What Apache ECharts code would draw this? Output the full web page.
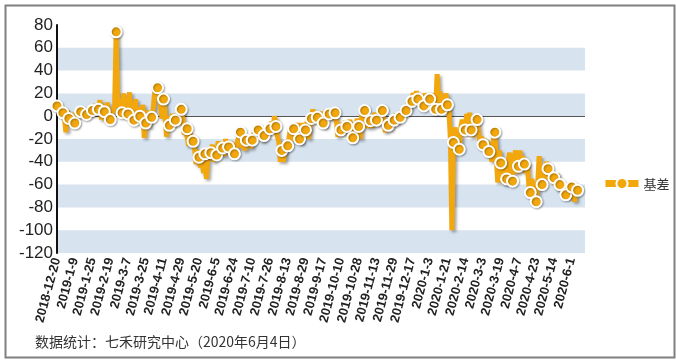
<!DOCTYPE html>
<html>
<head>
<meta charset="utf-8">
<script src="https://cdn.jsdelivr.net/npm/echarts@6/dist/echarts.min.js"></script>
<style>
html,body{margin:0;padding:0;background:#fff;}
#chart{width:676px;height:361px;}
</style>
</head>
<body>
<div id="chart"></div>
<script>
// Tick labels along the x axis (every 12th trading day)
var tickLabels = ['2018-12-20','2019-1-9','2019-1-25','2019-2-19','2019-3-7','2019-3-25','2019-4-11','2019-4-29','2019-5-20','2019-6-5','2019-6-24','2019-7-10','2019-7-26','2019-8-13','2019-8-29','2019-9-17','2019-10-10','2019-10-28','2019-11-13','2019-11-29','2019-12-17','2020-1-3','2020-1-21','2020-2-14','2020-3-3','2020-3-19','2020-4-7','2020-4-23','2020-5-14','2020-6-1'];
var tickStep = 12;
var categoryCount = 358;
var markerStep = 4;
var seriesName = '基差';
// basis values (one per trading day)
var basis = [
 9, 6, 2, 5, 3, 0, -14, 5, -2, -4, 3, -8, -6, 2, 0, 4,
 4, 2, 0, 3, 1.5, 4, 7, 2, 5, 8, 10, 3, 6, 14, -3, 10,
 4, -4, 12, 2, -3, 2, 5, 10, 74, 8, 15, 5, 3, 20, 5, 10,
 2, 21, -4, 12, -3.5, 15, -5, 8, 0, -6, 10, -19, -6, 5, -10, 3,
 -1, 6, 20, 26, 25, 18, 8, -2, 15, 5, -18, 0, -8, -4, 2, -8,
 -3.5, 0, -6, 3, 6, -2, -16, -10, -11, -26, -15, -20, -22, -28, -42, -30,
 -36, -45, -30, -50, -33, -55, -35, -28, -32, -25, -40, -30, -34, -22, -30, -24,
 -28, -35, -20, -30, -27, -22, -30, -24, -33, -28, -22, -18, -14, -28, -20, -30,
 -21, -26, -18, -28, -21, -16, -10, -15, -12, -20, -14, -22, -17, -10, -18, -8,
 -11, -5, -12, 0, -9, -18, -22, -40, -30, -40, -32, -22, -26, -18, -10, -22,
 -11, -8, -15, -6, -20, -24, -6, -14, -12, -5, -20, -8, -2, 6, -2, 4,
 -1, -4, 4, -3, -6, -10, 6, -2, 2, 5, -3, 6, 3, -5, -18, -8,
 -12, -6, -16, -4, -9, -12, -3, -22, -19, -6, -14, -2, -9, -20, 0, 2,
 5, -6, -10, 0, -4, -10, -2, 3, -3.5, -8, -2, 0, 5, -3, -14, -4,
 -8, -12, -2, -8, -3.5, 2, -6, -1, -1, 4, 0, 6, 5, 10, 6, 14,
 13, 20, 12, 22, 15, 10, 18, 12, 9, 20, 14, 18, 15, 20, 10, 12,
 6, 37, 12, 22, 6, 18, 8, 20, 10, 5, -20, -100, -23, -10, -15, -12,
 -29, -10, -3, -14, -12, 2, -8, 3, -12, -18, 0, -8, -3, -14, -24, -18,
 -25, -20, -30, -22, -31, -24, -40, -22, -14, -35, -58, -30, -41, -58, -40, -60,
 -55, -40, -32, -58, -57, -38, -30, -50, -44, -30, -48, -35, -42, -50, -40, -60,
 -67, -55, -65, -72, -75, -60, -35, -50, -60, -45, -55, -40, -46, -55, -50, -58,
 -54, -60, -50, -65, -60, -58, -68, -62, -69, -60, -72, -58, -62, -64, -75, -60,
 -65
];
var yMin = -120, yMax = 80, yStep = 20;
var footnote = '数据统计：七禾研究中心（2020年6月4日）';

var categories = [];
for (var i = 0; i < categoryCount; i++) {
  categories.push(i % tickStep === 0 && tickLabels[i / tickStep] ? tickLabels[i / tickStep] : ('d' + i));
}
var seriesData = basis.map(function (v, i) {
  return i % markerStep === 0 ? v : { value: v, symbol: 'none' };
});
var splitColors = [];
for (var t = yMin; t <= yMax; t += yStep) splitColors.push(t === 0 ? '#555555' : 'rgba(0,0,0,0)');

var orange = '#F2A70D';
var chart = echarts.init(document.getElementById('chart'), null, { renderer: 'canvas' });
chart.setOption({
  animation: false,
  backgroundColor: '#ffffff',
  textStyle: { fontFamily: 'Liberation Sans, Arial, sans-serif' },
  grid: { left: 57, right: 91, top: 25, bottom: 108, containLabel: false },
  legend: {
    show: true,
    left: 597, top: 172,
    itemWidth: 33, itemHeight: 14,
    itemGap: 5,
    lineStyle: { width: 7 },
    textStyle: { fontSize: 13, color: '#333', fontFamily: 'Noto Sans CJK SC, sans-serif', padding: [0, 0, 0, 0] },
    data: [seriesName]
  },
  xAxis: {
    type: 'category',
    data: categories,
    boundaryGap: false,
    axisLine: { show: false },
    axisTick: { show: false },
    splitLine: { show: false },
    axisLabel: {
      interval: tickStep - 1,
      rotate: 75,
      margin: 5,
      fontSize: 13,
      fontWeight: 'bold',
      color: '#222'
    }
  },
  yAxis: {
    type: 'value',
    min: yMin, max: yMax, interval: yStep,
    axisLine: { show: true, lineStyle: { color: '#111', width: 2 } },
    axisTick: { show: false },
    axisLabel: { fontSize: 17, color: '#222', margin: 4 },
    splitLine: { show: true, lineStyle: { color: splitColors, width: 1 } },
    splitArea: { show: true, areaStyle: { color: ['#D7E3EF', 'rgba(255,255,255,0)'] } }
  },
  series: [{
    name: seriesName,
    type: 'line',
    data: seriesData,
    symbol: 'circle',
    symbolSize: 11,
    showAllSymbol: true,
    lineStyle: {
      color: orange, width: 5,
      shadowColor: 'rgba(0,0,0,0.35)', shadowBlur: 3, shadowOffsetX: 2, shadowOffsetY: 2
    },
    itemStyle: {
      color: orange, borderColor: '#ffffff', borderWidth: 2,
      shadowColor: 'rgba(0,0,0,0.3)', shadowBlur: 2, shadowOffsetX: 1, shadowOffsetY: 1
    },
    z: 3
  }],
  graphic: [
    { type: 'rect', left: 3, top: 3, shape: { width: 669, height: 352 }, style: { fill: 'none', stroke: '#808080', lineWidth: 2 }, silent: true, z: 100 },
    { type: 'text', left: 35, top: 335, style: { text: footnote, fontSize: 14, fill: '#333', fontFamily: 'Noto Sans CJK SC, sans-serif' }, silent: true }
  ]
});
</script>
</body>
</html>
